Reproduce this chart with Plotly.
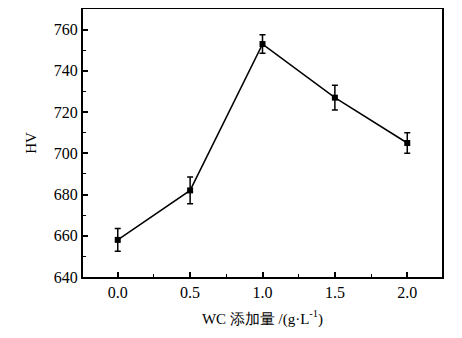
import plotly.graph_objects as go

wc = [0.0, 0.5, 1.0, 1.5, 2.0]
hv = [658, 682, 753, 727, 705]
err = [5.5, 6.5, 4.5, 6, 5]
x_ticks = [0.0, 0.5, 1.0, 1.5, 2.0]
x_tick_text = ["0.0", "0.5", "1.0", "1.5", "2.0"]
y_ticks = [640, 660, 680, 700, 720, 740, 760]

font = "Liberation Serif, Times New Roman, serif"

fig = go.Figure()
fig.add_trace(go.Scatter(
    x=wc, y=hv, mode="lines+markers",
    line=dict(color="black", width=1.5),
    marker=dict(symbol="square", size=6, color="black"),
    error_y=dict(type="data", array=err, visible=True, color="black", thickness=1.5, width=3),
    showlegend=False,
))

axis_common = dict(
    showline=True, linecolor="black", linewidth=2, mirror=True,
    showgrid=False, zeroline=False, automargin=False,
    ticks="inside", ticklen=5, tickwidth=1.5, tickcolor="black",
    tickfont=dict(family=font, size=16, color="black"),
)
fig.update_xaxes(
    range=[-0.24, 2.24], tickvals=x_ticks, ticktext=x_tick_text,
    minor=dict(dtick=0.25, ticks="inside", ticklen=3, tickwidth=1.2, tickcolor="black"),
    title=dict(text="WC 添加量 /(g·L<sup>-1</sup>)", font=dict(family=font, size=15, color="black"), standoff=13),
    **axis_common,
)
fig.update_yaxes(
    range=[640, 770], tickvals=y_ticks,
    minor=dict(dtick=10, ticks="inside", ticklen=3, tickwidth=1.2, tickcolor="black"),
    title=dict(text="HV", font=dict(family=font, size=15, color="black"), standoff=14),
    **axis_common,
)
fig.update_layout(
    width=454, height=330,
    margin=dict(l=75, r=20, t=1, b=61),
    paper_bgcolor="white", plot_bgcolor="white",
)
fig.write_html("out.html")
